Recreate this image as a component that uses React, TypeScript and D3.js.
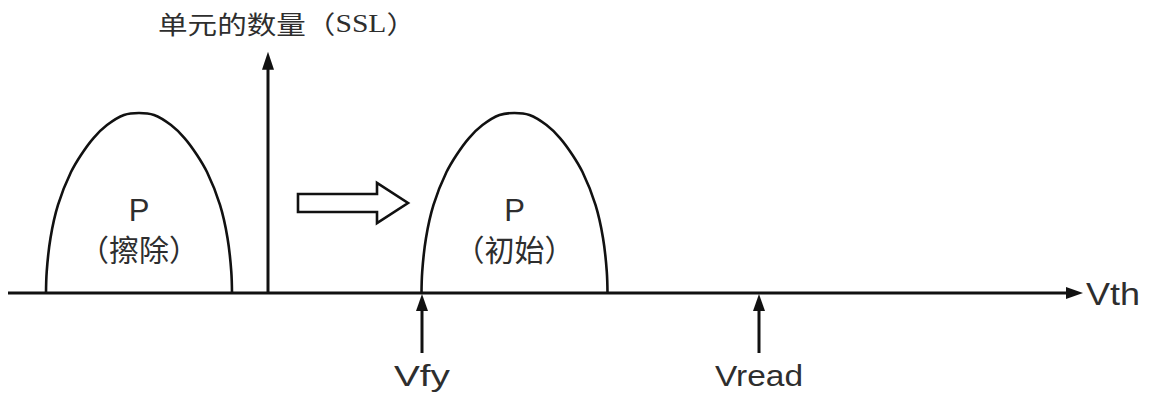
import React from "react";
import * as d3 from "d3";

// Distribution profiles: [Vth, cell count]
const erasedVth = [-2.22, -2.213, -2.175, -2.1, -1.97, -1.87, -1.745, -1.61, -1.44, -1.29, -1.14, -0.97, -0.835, -0.71, -0.61, -0.48, -0.405, -0.367, -0.36];
const erasedCount = [0, 11.7, 30.6, 48.9, 67.2, 76.7, 86.1, 93.3, 98.9, 100, 98.9, 93.3, 86.1, 76.7, 67.2, 48.9, 30.6, 11.7, 0];
const initialVth = [1.535, 1.542, 1.58, 1.655, 1.785, 1.885, 2.01, 2.145, 2.315, 2.465, 2.615, 2.785, 2.92, 3.045, 3.145, 3.275, 3.35, 3.388, 3.395];
const initialCount = [0, 11.7, 30.6, 48.9, 67.2, 76.7, 86.1, 93.3, 98.9, 100, 98.9, 93.3, 86.1, 76.7, 67.2, 48.9, 30.6, 11.7, 0];

const markerNames = ["Vfy", "Vread"];
const markerVth = [1.54, 4.91];

const distLabels = ["P", "P"];
const distSubLabels = ["（擦除）", "（初始）"];

const yTitle = "单元的数量（";
const yTitleLatin = "SSL";
const xTitle = "Vth";

const xDomain = [-2.6, 8.15];
const yDomain = [0, 134];

export default function App() {
  const W = 1150, H = 403;
  const x = d3.scaleLinear().domain(xDomain).range([8, 1083]);
  const y = d3.scaleLinear().domain([0, 100]).range([293, 113]);

  const line = d3
    .line<[number, number]>()
    .x((d) => x(d[0]))
    .y((d) => y(d[1]))
    .curve(d3.curveCatmullRom.alpha(0.5));

  const dists = [
    erasedVth.map((v, i) => [v, erasedCount[i]] as [number, number]),
    initialVth.map((v, i) => [v, initialCount[i]] as [number, number]),
  ];

  const stroke = "#111";
  const textColor = "#2e2e2e";
  const y0 = y(0);
  const ax = x(0);
  const yTop = y(yDomain[1]);
  const xEnd = x(xDomain[1]);

  // hollow shift arrow (in data units)
  const hx0 = x(0.3), hx1 = x(1.09), hx2 = x(1.4), hy = y(50);
  const hollow = [
    [hx0, hy - 9], [hx1, hy - 9], [hx1, hy - 20], [hx2, hy],
    [hx1, hy + 20], [hx1, hy + 9], [hx0, hy + 9],
  ].map((p) => p.join(",")).join(" ");

  return (
    <svg width={W} height={H} style={{ position: "absolute", left: 0, top: 0, background: "#fff" }}>
      {/* y axis */}
      <line x1={ax} x2={ax} y1={y0} y2={yTop + 14} stroke={stroke} strokeWidth={3} />
      <polygon points={`${ax},${yTop} ${ax - 6},${yTop + 18} ${ax + 6},${yTop + 18}`} fill={stroke} />
      <text x={158} y={23} dominantBaseline="central" fontFamily="'Noto Sans CJK SC'" fontSize={25}
        fill={textColor} textLength={258} lengthAdjust="spacingAndGlyphs">
        {yTitle}
        <tspan fontFamily="'Liberation Serif'">{yTitleLatin}</tspan>
        ）
      </text>

      {/* x axis */}
      <line x1={x(xDomain[0])} x2={xEnd - 12} y1={y0} y2={y0} stroke={stroke} strokeWidth={3} />
      <polygon points={`${xEnd},${y0} ${xEnd - 17},${y0 - 6} ${xEnd - 17},${y0 + 6}`} fill={stroke} />
      <text x={1086} y={305} fontFamily="'Liberation Sans'" fontSize={32} fill={textColor}
        textLength={54} lengthAdjust="spacingAndGlyphs">{xTitle}</text>

      {/* distributions */}
      {dists.map((d, i) => {
        const cx = x((d[0][0] + d[d.length - 1][0]) / 2);
        return (
          <g key={i}>
            <path d={line(d) || ""} fill="none" stroke={stroke} strokeWidth={2.6} />
            <text x={cx} y={y(46)} textAnchor="middle" dominantBaseline="central"
              fontFamily="'Liberation Sans'" fontSize={31} fill={textColor}>{distLabels[i]}</text>
            <text x={cx} y={y(25)} textAnchor="middle" dominantBaseline="central"
              fontFamily="'Noto Sans CJK SC'" fontSize={30} fill={textColor}>{distSubLabels[i]}</text>
          </g>
        );
      })}

      {/* hollow arrow */}
      <polygon points={hollow} fill="#fff" stroke={stroke} strokeWidth={2.6} strokeLinejoin="miter" />

      {/* markers */}
      {markerVth.map((v, i) => {
        const mx = x(v);
        return (
          <g key={i}>
            <line x1={mx} x2={mx} y1={y0 + 60} y2={y0 + 12} stroke={stroke} strokeWidth={3} />
            <polygon points={`${mx},${y0 + 1} ${mx - 6},${y0 + 18} ${mx + 6},${y0 + 18}`} fill={stroke} />
            <text x={mx} y={386} textAnchor="middle" fontFamily="'Liberation Sans'" fontSize={30}
              fill={textColor} textLength={i === 0 ? 56 : 88} lengthAdjust="spacingAndGlyphs">
              {markerNames[i]}
            </text>
          </g>
        );
      })}
    </svg>
  );
}
